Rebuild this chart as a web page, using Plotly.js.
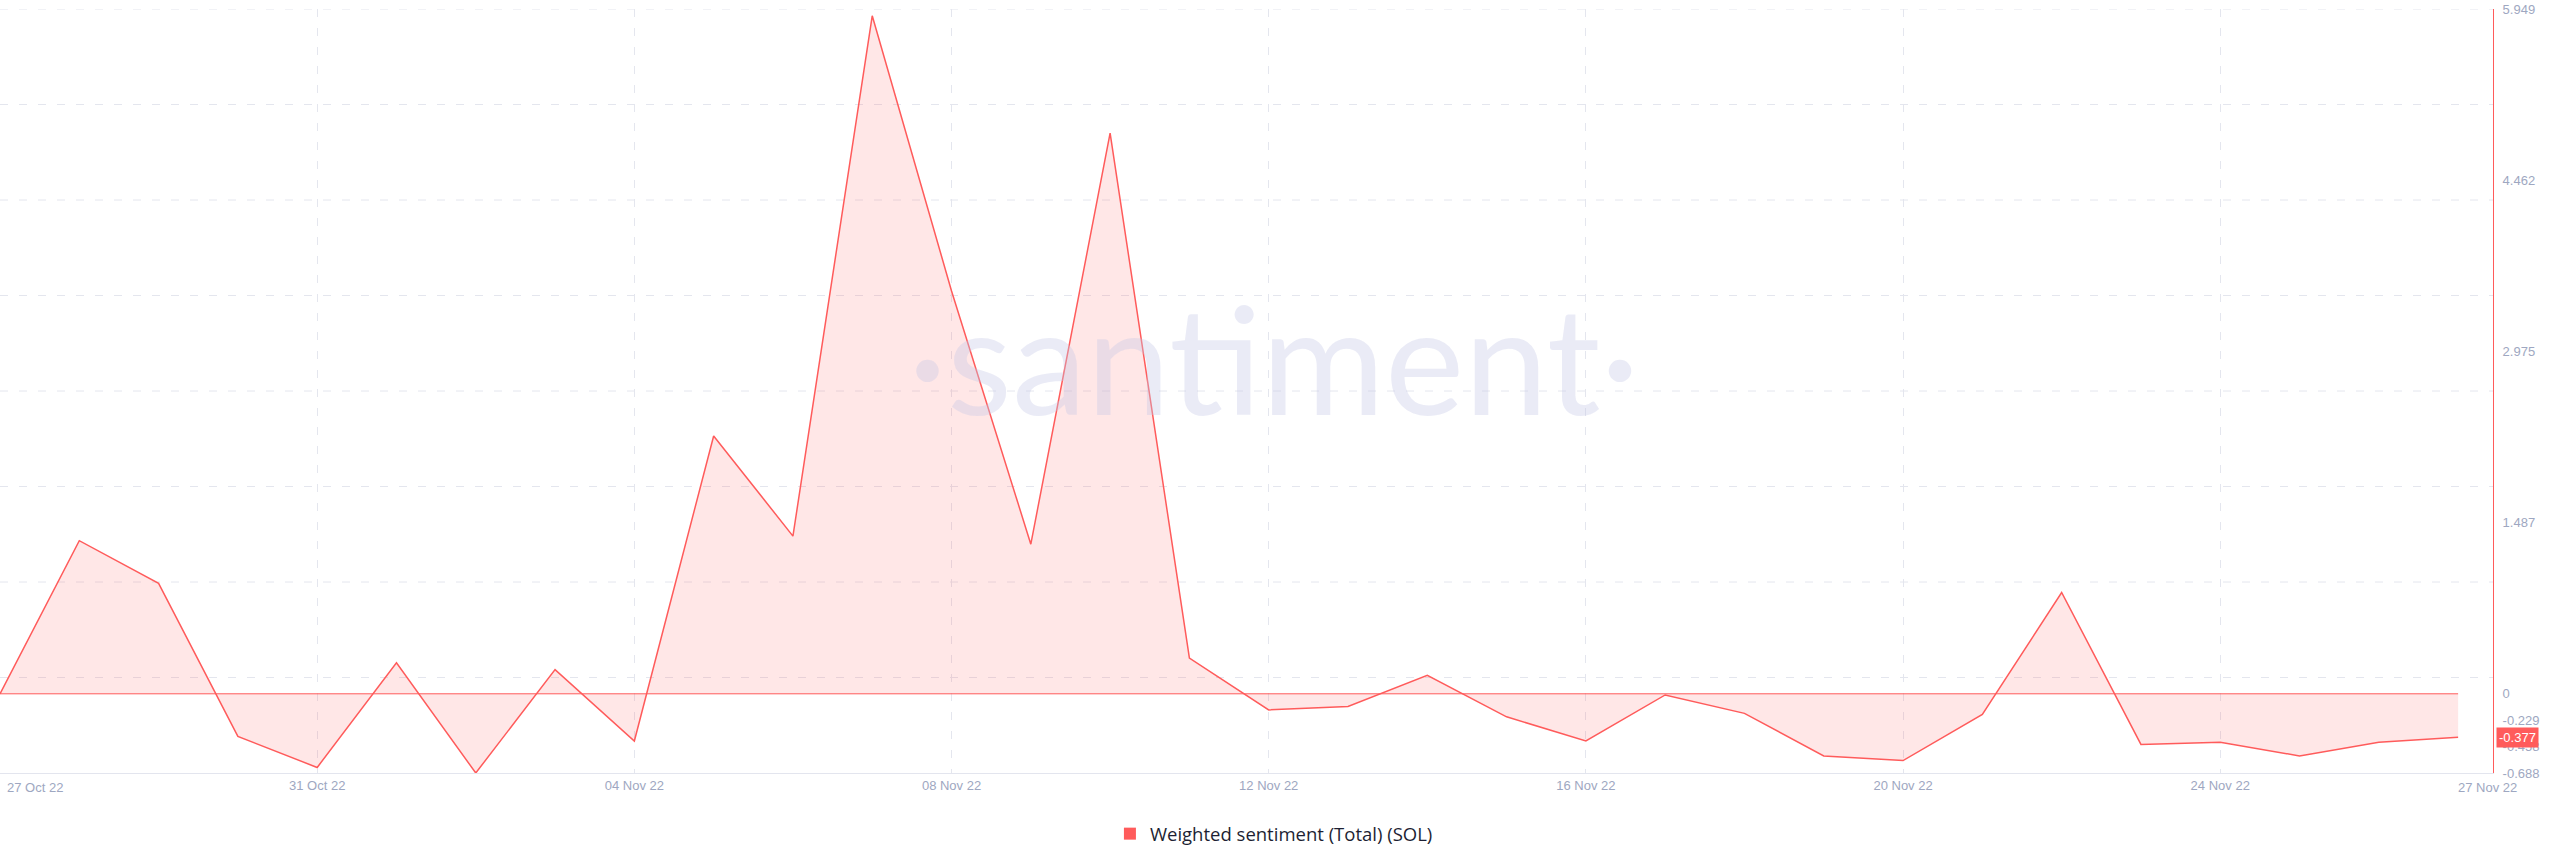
<!DOCTYPE html>
<html>
<head>
<meta charset="utf-8">
<script src="https://cdn.plot.ly/plotly-3.0.1.min.js"></script>
<style>
  html, body { margin: 0; padding: 0; background: #ffffff; }
  #chart { width: 2560px; height: 867px; }
</style>
</head>
<body>
<div id="chart"></div>
<script>
// Daily weighted sentiment for SOL, 27 Oct 2022 - 27 Nov 2022
const dates = [
  '2022-10-27', '2022-10-28', '2022-10-29', '2022-10-30', '2022-10-31',
  '2022-11-01', '2022-11-02', '2022-11-03', '2022-11-04', '2022-11-05',
  '2022-11-06', '2022-11-07', '2022-11-08', '2022-11-09', '2022-11-10',
  '2022-11-11', '2022-11-12', '2022-11-13', '2022-11-14', '2022-11-15',
  '2022-11-16', '2022-11-17', '2022-11-18', '2022-11-19', '2022-11-20',
  '2022-11-21', '2022-11-22', '2022-11-23', '2022-11-24', '2022-11-25',
  '2022-11-26', '2022-11-27'
];
const sentiment = [
  0.00, 1.33, 0.96, -0.37, -0.64,
  0.27, -0.688, 0.21, -0.41, 2.24,
  1.37, 5.89, 3.50, 1.30, 4.87,
  0.31, -0.14, -0.11, 0.16, -0.20,
  -0.41, -0.01, -0.17, -0.54, -0.58,
  -0.18, 0.88, -0.44, -0.42, -0.54,
  -0.42, -0.377
];
const seriesName = 'Weighted sentiment (Total) (SOL)';

// Axis ticks
const xTickDates = ['2022-10-27', '2022-10-31', '2022-11-04', '2022-11-08', '2022-11-12',
                    '2022-11-16', '2022-11-20', '2022-11-24', '2022-11-27'];
const xTickLabels = ['27 Oct 22', '31 Oct 22', '04 Nov 22', '08 Nov 22', '12 Nov 22',
                     '16 Nov 22', '20 Nov 22', '24 Nov 22', '27 Nov 22'];
const yTickValues = [5.949, 4.462, 2.975, 1.487, 0, -0.229, -0.458, -0.688];
const yTickLabels = ['5.949', '4.462', '2.975', '1.487', '0', '-0.229', '-0.458', '-0.688'];

const RED = '#ff5b5b';
const TICK_COLOR = '#9ea7c1';
const GRID_COLOR = '#e4e6ee';
const GRID_DASH = '8px,11px';

const yMin = Math.min(...yTickValues);
const yMax = Math.max(...yTickValues);

// Leave a little room after the last day before the value axis
const lastDay = new Date(dates[dates.length - 1] + 'T00:00:00Z');
const xEnd = new Date(lastDay.getTime() + 0.44 * 86400000).toISOString();

const lastValue = sentiment[sentiment.length - 1];

// Eight evenly spaced dashed grid rows across the plot
const shapes = [];
for (let k = 1; k <= 8; k++) {
  const gy = yMin + (yMax - yMin) * k / 8;
  shapes.push({
    type: 'line', layer: 'below', xref: 'paper', yref: 'y',
    x0: 0, x1: 1, y0: gy, y1: gy,
    line: { color: GRID_COLOR, width: 1, dash: GRID_DASH }
  });
}
// Baseline of the filled area
shapes.push({
  type: 'line', xref: 'x', yref: 'y',
  x0: dates[0], x1: dates[dates.length - 1], y0: 0, y1: 0,
  line: { color: RED, width: 1 }
});

const traces = [
  {
    x: dates,
    y: sentiment,
    type: 'scatter',
    mode: 'lines',
    line: { color: RED, width: 1.5 },
    fill: 'tozeroy',
    fillcolor: 'rgba(255, 91, 91, 0.15)',
    showlegend: false,
    hoverinfo: 'x+y'
  },
  {
    x: [null],
    y: [null],
    type: 'scatter',
    mode: 'markers',
    marker: { symbol: 'square', size: 12, color: RED },
    name: seriesName,
    showlegend: true
  }
];

const layout = {
  width: 2560,
  height: 867,
  margin: { l: 0, r: 67, t: 9, b: 94 },
  paper_bgcolor: '#ffffff',
  plot_bgcolor: '#ffffff',
  font: { family: 'Liberation Sans, Arial, sans-serif', size: 13, color: TICK_COLOR },
  xaxis: {
    type: 'date',
    range: [dates[0], xEnd],
    tickvals: xTickDates.slice(0, -1),
    ticktext: xTickLabels.slice(0, -1).map((t, i) => (i === 0 ? '' : t)),
    ticks: '',
    showgrid: true,
    gridcolor: GRID_COLOR,
    griddash: GRID_DASH,
    gridwidth: 1,
    showline: true,
    linecolor: '#e3e5ee',
    linewidth: 1,
    zeroline: false,
    tickfont: { size: 13, color: TICK_COLOR },
    fixedrange: true
  },
  yaxis: {
    side: 'right',
    range: [yMin, yMax],
    tickvals: yTickValues,
    ticktext: yTickLabels,
    ticks: '',
    ticklabelstandoff: 6,
    showgrid: false,
    zeroline: false,
    showline: true,
    linecolor: RED,
    linewidth: 1,
    tickfont: { size: 13, color: TICK_COLOR },
    fixedrange: true
  },
  shapes: shapes,
  annotations: [
    {
      text: '·santiment·',
      xref: 'paper', yref: 'paper', x: 0.511, y: 0.545,
      xanchor: 'center', yanchor: 'middle',
      showarrow: false,
      font: { family: 'Lato, Open Sans, sans-serif', size: 150, weight: 400, color: 'rgba(196, 200, 230, 0.36)' }
    },
    {
      text: xTickLabels[0],
      xref: 'paper', yref: 'paper', x: 0, y: -0.019,
      xanchor: 'left', yanchor: 'middle', xshift: 5,
      showarrow: false,
      font: { size: 13, color: TICK_COLOR }
    },
    {
      text: xTickLabels[xTickLabels.length - 1],
      xref: 'paper', yref: 'paper', x: 1, y: -0.019,
      xanchor: 'center', yanchor: 'middle', xshift: -6,
      showarrow: false,
      font: { size: 13, color: TICK_COLOR }
    },
    {
      text: lastValue.toFixed(3),
      xref: 'paper', yref: 'y', x: 1, y: lastValue,
      xanchor: 'left', yanchor: 'middle', xshift: 3,
      showarrow: false,
      bgcolor: RED,
      borderpad: 2,
      font: { size: 13, color: '#ffffff' }
    }
  ],
  showlegend: true,
  legend: {
    orientation: 'h',
    x: 0.511, xanchor: 'center',
    y: -0.08, yanchor: 'middle',
    font: { family: 'Open Sans, sans-serif', size: 18.5, color: '#1d1f33' },
    bgcolor: 'rgba(0,0,0,0)'
  },
  hovermode: 'x'
};

Plotly.newPlot('chart', traces, layout, { displayModeBar: false, staticPlot: true });
</script>
</body>
</html>
